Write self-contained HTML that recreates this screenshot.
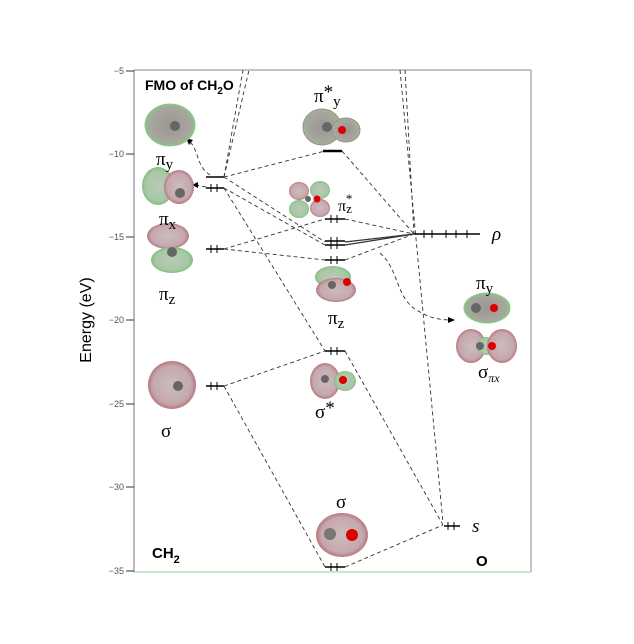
<!DOCTYPE html>
<html><head><meta charset="utf-8"><style>
html,body{margin:0;padding:0;background:#fff;}
svg{display:block;font-family:"Liberation Serif",serif;}
</style></head><body>
<svg width="634" height="644" viewBox="0 0 634 644" xmlns="http://www.w3.org/2000/svg">
<defs>
<radialGradient id="gg" cx="50%" cy="50%" r="50%"><stop offset="0" stop-color="#b9c9b6"/><stop offset="0.8" stop-color="#a8c7a6"/><stop offset="1" stop-color="#7fbf7f"/></radialGradient>
<radialGradient id="rr" cx="50%" cy="50%" r="50%"><stop offset="0" stop-color="#cdbcbf"/><stop offset="0.8" stop-color="#c4a8ad"/><stop offset="1" stop-color="#b87880"/></radialGradient>
<radialGradient id="dd" cx="50%" cy="50%" r="50%"><stop offset="0" stop-color="#9a9690"/><stop offset="0.8" stop-color="#a8a49e"/><stop offset="1" stop-color="#8fbf8a"/></radialGradient>
</defs>
<line x1="134" y1="70" x2="531" y2="70" stroke="#888" stroke-width="1"/>
<line x1="134" y1="70" x2="134" y2="572" stroke="#8a6a8a" stroke-width="1"/>
<line x1="531" y1="70" x2="531" y2="572" stroke="#888" stroke-width="1"/>
<line x1="134" y1="572" x2="531" y2="572" stroke="#9c9" stroke-width="1"/>
<g stroke="#333" stroke-width="1">
<line x1="126" y1="71" x2="134" y2="71"/><line x1="126" y1="154" x2="134" y2="154"/><line x1="126" y1="237" x2="134" y2="237"/><line x1="126" y1="320" x2="134" y2="320"/><line x1="126" y1="404" x2="134" y2="404"/><line x1="126" y1="487" x2="134" y2="487"/><line x1="126" y1="571" x2="134" y2="571"/>
</g>
<g font-family="Liberation Sans,sans-serif" font-size="9" fill="#555" text-anchor="end">
<text x="124" y="74">−5</text><text x="124" y="157">−10</text><text x="124" y="240">−15</text><text x="124" y="323">−20</text><text x="124" y="407">−25</text><text x="124" y="490">−30</text><text x="124" y="574">−35</text>
</g>
<text transform="translate(91,320) rotate(-90)" font-family="Liberation Sans,sans-serif" font-size="16" text-anchor="middle" fill="#000">Energy (eV)</text>
<text x="145" y="90" font-family="Liberation Sans,sans-serif" font-weight="bold" font-size="14">FMO of CH<tspan font-size="10" dy="4">2</tspan><tspan dy="-4">O</tspan></text>
<text x="152" y="558" font-family="Liberation Sans,sans-serif" font-weight="bold" font-size="15">CH<tspan font-size="11" dy="5">2</tspan></text>
<text x="476" y="566" font-family="Liberation Sans,sans-serif" font-weight="bold" font-size="15">O</text>

<g fill="none" stroke="#333" stroke-width="0.9" stroke-dasharray="4,3">
<path d="M224 177 L243 70"/><path d="M224 177 L249 70"/>
<path d="M400 70 L443 523"/><path d="M405 70 L414 234"/>
<path d="M224 177 L325 151"/><path d="M342 151 L414 234"/>
<path d="M224 177 L325 242"/><path d="M224 188 L325 245"/>
<path d="M224 188 L325 351"/>
<path d="M224 249 L325 219"/><path d="M224 249 L325 260"/>
<path d="M345 219 L414 234"/><path d="M345 260 L414 234"/>
<path d="M224 386 L325 351"/><path d="M224 386 L325 567"/>
<path d="M345 351 L443 525"/>
<path d="M345 567 L443 525"/>
<path d="M210 175 C195 165 200 150 188 140"/>
<path d="M206 187 L196 185"/>
<path d="M380 253 C400 270 395 300 420 312 C430 318 440 320 452 320"/>
</g>
<path d="M345 242 L414 234 M345 245 L414 234" stroke="#333" stroke-width="1.2"/>
<polygon points="186,138 193,140 189,145" fill="#000"/>
<polygon points="192,185 198,182 198,188" fill="#000"/>
<polygon points="455,320 448,317 448,323" fill="#000"/>

<g stroke="#000" stroke-width="1.5">
<line x1="206" y1="177" x2="224" y2="177"/>
<line x1="206" y1="188" x2="224" y2="188"/>
<line x1="206" y1="249" x2="224" y2="249"/>
<line x1="206" y1="386" x2="224" y2="386"/>
<line x1="323" y1="151" x2="342" y2="151" stroke-width="2.5"/>
<line x1="325" y1="219" x2="345" y2="219"/>
<line x1="325" y1="241" x2="345" y2="241"/>
<line x1="325" y1="245" x2="345" y2="245"/>
<line x1="325" y1="260" x2="345" y2="260"/>
<line x1="325" y1="351" x2="345" y2="351"/>
<line x1="325" y1="567" x2="345" y2="567"/>
<line x1="414" y1="234" x2="480" y2="234"/>
<line x1="444" y1="526" x2="460" y2="526"/>
</g>
<g stroke="#000" stroke-width="1">
<path d="M211 184v8M217 184v8M211 245v8M217 245v8M211 382v8M217 382v8M331 215v8M337 215v8M331 237v12M337 237v12M331 256v8M337 256v8M331 347v8M337 347v8M331 563v8M337 563v8M424 230v8M432 230v8M446 230v8M456 230v8M467 230v8M448 522v8M454 522v8"/>
</g>

<ellipse cx="170" cy="125" rx="25" ry="21" fill="url(#dd)" stroke="#8c8" stroke-width="1"/>
<ellipse cx="158" cy="186" rx="16" ry="19" fill="url(#gg)"/><ellipse cx="179" cy="187" rx="15" ry="17" fill="url(#rr)"/>
<ellipse cx="168" cy="236" rx="21" ry="13" fill="url(#rr)"/><ellipse cx="172" cy="260" rx="21" ry="13" fill="url(#gg)"/>
<ellipse cx="172" cy="385" rx="24" ry="24" fill="url(#rr)"/>
<ellipse cx="322" cy="127" rx="19" ry="18" fill="url(#dd)" stroke="#a88" stroke-width="1"/><ellipse cx="346" cy="130" rx="14" ry="12" fill="url(#dd)" stroke="#a88"/>
<circle cx="342" cy="130" r="4" fill="#d00"/>
<ellipse cx="299" cy="191" rx="10" ry="9" fill="url(#rr)"/><ellipse cx="320" cy="190" rx="10" ry="9" fill="url(#gg)"/><ellipse cx="299" cy="209" rx="10" ry="9" fill="url(#gg)"/><ellipse cx="320" cy="208" rx="10" ry="9" fill="url(#rr)"/><circle cx="317" cy="199" r="3.5" fill="#d00"/>
<ellipse cx="333" cy="277" rx="18" ry="11" fill="url(#gg)"/><ellipse cx="336" cy="290" rx="20" ry="12" fill="url(#rr)"/><circle cx="347" cy="282" r="4" fill="#d00"/>
<ellipse cx="325" cy="381" rx="15" ry="18" fill="url(#rr)"/><ellipse cx="345" cy="381" rx="11" ry="10" fill="url(#gg)"/><circle cx="343" cy="380" r="4" fill="#d00"/>
<ellipse cx="342" cy="535" rx="26" ry="22" fill="url(#rr)"/><circle cx="352" cy="535" r="6" fill="#d00"/><circle cx="330" cy="534" r="6" fill="#777"/>
<ellipse cx="487" cy="308" rx="23" ry="15" fill="url(#dd)" stroke="#8c8"/><circle cx="494" cy="308" r="4" fill="#d00"/>
<ellipse cx="471" cy="346" rx="15" ry="17" fill="url(#rr)"/><ellipse cx="486" cy="346" rx="9" ry="9" fill="url(#gg)"/><ellipse cx="502" cy="346" rx="15" ry="17" fill="url(#rr)"/><circle cx="492" cy="346" r="4" fill="#d00"/>
<g fill="#666"><circle cx="175" cy="126" r="5"/><circle cx="180" cy="193" r="5"/><circle cx="172" cy="252" r="5"/><circle cx="178" cy="386" r="5"/><circle cx="327" cy="127" r="5"/><circle cx="308" cy="199" r="3"/><circle cx="332" cy="285" r="4"/><circle cx="325" cy="379" r="4"/><circle cx="476" cy="308" r="5"/><circle cx="480" cy="346" r="4"/></g>

<g font-size="19" fill="#000">
<text x="156" y="165">π<tspan font-size="15" dy="4">y</tspan></text>
<text x="159" y="225">π<tspan font-size="15" dy="4">x</tspan></text>
<text x="159" y="300">π<tspan font-size="15" dy="4">z</tspan></text>
<text x="161" y="437">σ</text>
<text x="314" y="102">π<tspan dy="-4">*</tspan><tspan font-size="15" dy="8">y</tspan></text>
<text x="338" y="211" font-size="16">π<tspan font-size="13" dy="2">z</tspan><tspan font-size="13" dx="-6" dy="-10">*</tspan></text>
<text x="328" y="324">π<tspan font-size="15" dy="4">z</tspan></text>
<text x="315" y="418">σ<tspan dy="-4">*</tspan></text>
<text x="336" y="508">σ</text>
<text x="476" y="289">π<tspan font-size="15" dy="4">y</tspan></text>
<text x="478" y="378">σ<tspan font-size="12" dy="4" font-style="italic">πx</tspan></text>
<text x="492" y="240" font-style="italic">ρ</text>
<text x="472" y="532" font-style="italic">s</text>
</g>
</svg>
</body></html>
